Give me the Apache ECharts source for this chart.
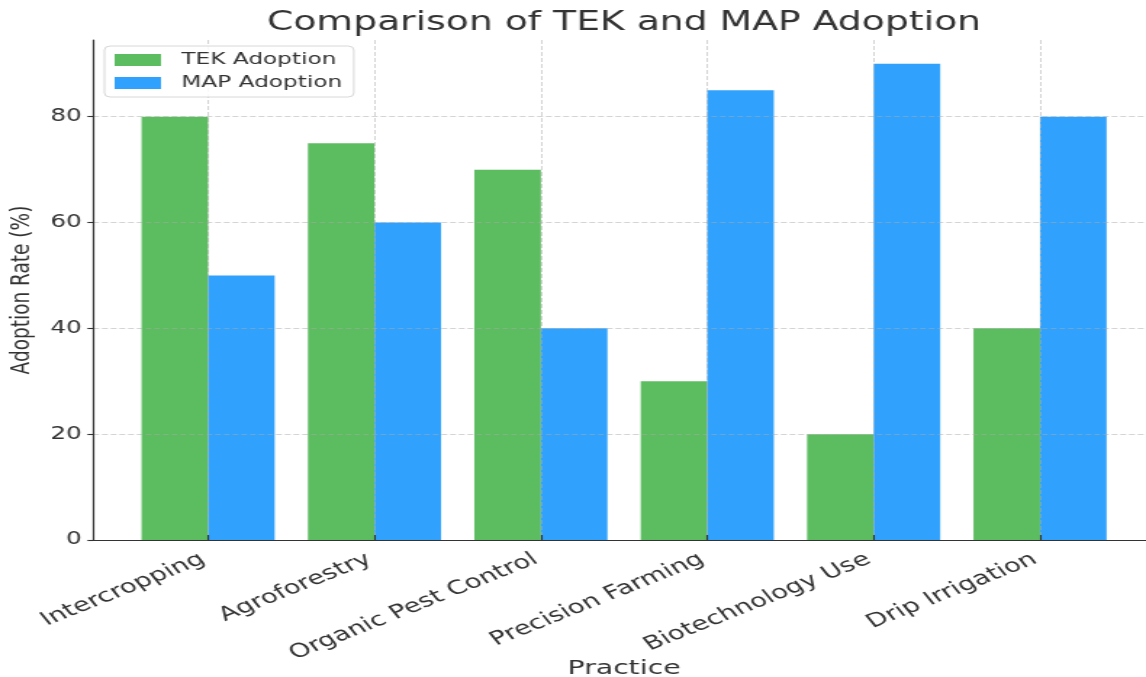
<!DOCTYPE html>
<html>
<head>
<meta charset="utf-8">
<script src="https://cdn.jsdelivr.net/npm/echarts@6/dist/echarts.min.js"></script>
<style>
  html, body { margin: 0; padding: 0; background: #fff; overflow: hidden; width: 1146px; height: 677px; }
  /* the figure is laid out on a 790px canvas and widened to the page width */
  #chart { width: 790px; height: 677px; transform: scaleX(1.45063); transform-origin: 0 0; }
</style>
</head>
<body>
<div id="chart"></div>
<script>
// Practices compared
const categories = [
  'Intercropping',
  'Agroforestry',
  'Organic Pest Control',
  'Precision Farming',
  'Biotechnology Use',
  'Drip Irrigation'
];
// Adoption rates (%)
const tekAdoption = [80, 75, 70, 30, 20, 40];
const mapAdoption = [50, 60, 40, 85, 90, 80];
// Tick positions
const yTicks = [0, 20, 40, 60, 80];
const xTicks = categories.map((_, i) => i);

const FONT = 'DejaVu Sans';
const TEXT = '#333';
const GRID_LINE = {
  show: true,
  lineStyle: { color: 'rgba(170,170,170,0.5)', width: 1, type: [4, 2] }
};

const chart = echarts.init(document.getElementById('chart'), null, { renderer: 'canvas' });

chart.setOption({
  backgroundColor: '#fff',
  animation: false,
  textStyle: { fontFamily: FONT },
  title: {
    text: 'Comparison of TEK and MAP Adoption',
    left: 184,
    top: 10,
    padding: 0,
    textStyle: { fontFamily: FONT, fontSize: 26, fontWeight: 'normal', color: TEXT }
  },
  legend: {
    orient: 'vertical',
    left: 72,
    top: 46,
    padding: [6, 8, 6, 7],
    itemGap: 7,
    itemWidth: 32,
    itemHeight: 12,
    icon: 'rect',
    backgroundColor: 'rgba(255,255,255,0.85)',
    borderColor: '#d8d8d8',
    borderWidth: 1,
    borderRadius: 4,
    textStyle: { fontFamily: FONT, fontSize: 16, color: TEXT, padding: [0, 0, 0, 9] },
    data: ['TEK Adoption', 'MAP Adoption']
  },
  grid: { left: 64.3, right: -6.1, top: 40, bottom: 137, containLabel: false, outerBoundsMode: 'none' },
  xAxis: {
    type: 'value',
    min: -0.69,
    max: 5.69,
    z: 3,
    name: 'Practice',
    nameLocation: 'middle',
    nameGap: 119,
    nameMoveOverlap: false,
    nameTextStyle: { fontFamily: FONT, fontSize: 19.5, color: TEXT },
    axisLine: { show: true, onZero: false, lineStyle: { color: '#333', width: 1.2 } },
    axisTick: { show: true, inside: true, length: 5, customValues: xTicks, lineStyle: { color: '#333', width: 1.1 } },
    axisLabel: {
      customValues: xTicks,
      rotate: 30,
      margin: 16,
      padding: [0, 4, 0, 0],
      fontFamily: FONT,
      fontSize: 19,
      color: TEXT,
      formatter: v => categories[Math.round(v)]
    },
    splitLine: GRID_LINE
  },
  yAxis: {
    type: 'value',
    min: 0,
    max: 94.5,
    z: 3,
    name: 'Adoption Rate (%)',
    nameLocation: 'middle',
    nameGap: 40,
    nameMoveOverlap: false,
    nameTextStyle: { fontFamily: FONT, fontSize: 18.5, color: TEXT },
    axisLine: { show: true, onZero: false, lineStyle: { color: '#333', width: 1.2 } },
    axisTick: { show: true, length: 4, customValues: yTicks, lineStyle: { color: '#333', width: 1.1 } },
    axisLabel: { customValues: yTicks, margin: 8, fontFamily: FONT, fontSize: 17, color: TEXT },
    splitLine: GRID_LINE
  },
  series: [
    {
      name: 'TEK Adoption',
      type: 'bar',
      barWidth: 45.88,
      barGap: '0%',
      itemStyle: { color: 'rgb(92,188,96)' },
      data: tekAdoption.map((v, i) => [i, v])
    },
    {
      name: 'MAP Adoption',
      type: 'bar',
      barWidth: 45.88,
      barGap: '0%',
      itemStyle: { color: 'rgb(48,162,253)' },
      data: mapAdoption.map((v, i) => [i, v])
    }
  ]
});
</script>
</body>
</html>
